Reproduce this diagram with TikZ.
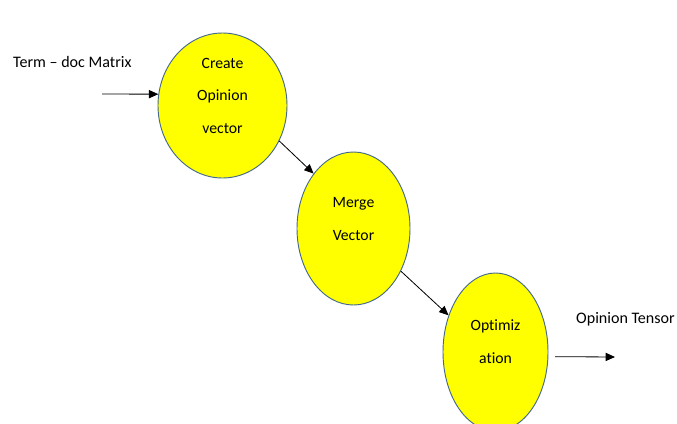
\documentclass[tikz,border=0pt]{standalone}
\usepackage{fontspec}
\setmainfont{Carlito}[Ligatures=NoCommon]
\usetikzlibrary{arrows.meta, shapes.geometric}
\definecolor{stagefill}{RGB}{255,255,0}
\definecolor{stageedge}{RGB}{70,105,140}
\newcommand{\stagetext}[1]{\begin{tabular}{@{}c@{}}#1\end{tabular}}
\tikzset{
x=0.03cm, y=-0.03cm, % one unit per pixel, y going down
flow/.style={-{Triangle[length=8pt,width=7pt]}, line width=0.7pt}, % plain black arrows
stage/.style={ellipse, draw=stageedge, fill=stagefill, line width=0.8pt, inner sep=0pt,
  font=\fontsize{13.4}{28}\selectfont, text height=0pt, text depth=12pt}, % yellow process bubbles
tag/.style={font=\fontsize{13.7}{16}\selectfont, anchor=base west, inner sep=0pt}, % input / output labels
}

\begin{document}
\begin{tikzpicture}
      \useasboundingbox (0,0) rectangle (677,423);

      \node[stage, minimum width=3.87cm, minimum height=4.35cm] (create) at (222.5,105.5) {\stagetext{Create\\Opinion\\vector}};
      \node[stage, minimum width=3.39cm, minimum height=4.59cm] (merge) at (353.5,228.5) {\stagetext{Merge\\Vector}};
      \node[stage, minimum width=3.15cm, minimum height=4.74cm] (optim) at (495.5,352) {\stagetext{Optimiz\\ation}};

      \node[tag] (input) at (13,68) {Term -- doc Matrix};
      \node[tag] (output) at (576,323) {Opinion Tensor};

      \coordinate (src) at (102,94);
      \coordinate (dst) at (615,357);

      \draw[flow] (src) -- (create.170);
      \draw[flow] (create.-32) -- (merge.126);
      \draw[flow] (merge.-42) -- (optim.142);
      \draw[flow, shorten <=2mm] (optim.-5) -- (dst);
\end{tikzpicture}
\end{document}
